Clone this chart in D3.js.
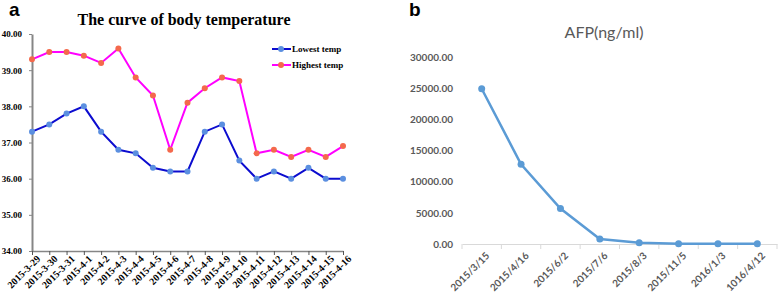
<!DOCTYPE html>
<html>
<head>
<meta charset="utf-8">
<script src="https://cdn.jsdelivr.net/npm/d3@7"></script>
<style>
  body { margin: 0; background: #fff; }
  svg { display: block; }
</style>
</head>
<body>
<div id="chart"></div>
<script>
// panel a: body temperature
const tempDates = ["2015-3-29", "2015-3-30", "2015-3-31", "2015-4-1", "2015-4-2", "2015-4-3",
    "2015-4-4", "2015-4-5", "2015-4-6", "2015-4-7", "2015-4-8", "2015-4-9", "2015-4-10",
    "2015-4-11", "2015-4-12", "2015-4-13", "2015-4-14", "2015-4-15", "2015-4-16"];
const lowestTemp = [37.3, 37.5, 37.8, 38.0, 37.3, 36.8, 36.7, 36.3, 36.2, 36.2, 37.3, 37.5, 36.5,
    36.0, 36.2, 36.0, 36.3, 36.0, 36.0];
const highestTemp = [39.3, 39.5, 39.5, 39.4, 39.2, 39.6, 38.8, 38.3, 36.8, 38.1, 38.5, 38.8, 38.7,
    36.7, 36.8, 36.6, 36.8, 36.6, 36.9];
const tempTicks = [34, 35, 36, 37, 38, 39, 40];

// panel b: AFP
const afpDates = ["2015/3/15", "2015/4/16", "2015/6/2", "2015/7/6", "2015/8/3", "2015/11/5",
    "2016/1/3", "1016/4/12"];
const afpValues = [24900, 12800, 5700, 800, 200, 60, 40, 30];
const afpTicks = [0, 5000, 10000, 15000, 20000, 25000, 30000];

const width = 778, height = 297;
const serif = '"Liberation Serif", "Times New Roman", serif';
const sans = 'Lato, "Open Sans", sans-serif';

const svg = d3.select("#chart").append("svg")
    .attr("width", width)
    .attr("height", height);

// ---------- panel a ----------
const xa = d3.scalePoint().domain(tempDates).range([32, 343]);
const ya = d3.scaleLinear().domain([34, 40]).range([251, 34]);
const fmt = d3.format(".2f");

const ga = svg.append("g");

ga.append("text")
    .attr("x", 9).attr("y", 16)
    .style("font-family", '"Liberation Sans", Arial, sans-serif')
    .style("font-weight", "bold")
    .style("font-size", "19px")
    .text("a");

ga.append("text")
    .attr("x", 184).attr("y", 25)
    .attr("text-anchor", "middle")
    .style("font-family", serif)
    .style("font-weight", "bold")
    .style("font-size", "16px")
    .text("The curve of body temperature");

const yAxisA = ga.append("g")
    .attr("transform", "translate(32,0)")
    .call(d3.axisLeft(ya).tickValues(tempTicks).tickFormat(fmt).tickSize(3).tickSizeOuter(0));
yAxisA.select(".domain").attr("stroke", "#868686").attr("stroke-width", 2);
yAxisA.selectAll(".tick line").attr("stroke", "#868686");
yAxisA.selectAll(".tick text")
    .attr("x", -10)
    .style("font-family", serif)
    .style("font-weight", "bold")
    .style("font-size", "9px")
    .attr("fill", "#000");

const xAxisA = ga.append("g")
    .attr("transform", "translate(0,251)")
    .call(d3.axisBottom(xa).tickSize(4).tickSizeOuter(0));
xAxisA.select(".domain").attr("stroke", "#868686").attr("stroke-width", 1.5);
xAxisA.selectAll(".tick line").attr("stroke", "#555");
xAxisA.selectAll(".tick text")
    .attr("text-anchor", "end")
    .attr("transform", "translate(6,6) rotate(-45)")
    .attr("x", 0).attr("y", 0).attr("dy", "0.35em")
    .style("font-family", serif)
    .style("font-weight", "bold")
    .style("font-size", "10px")
    .attr("fill", "#000");

const seriesA = [
    { name: "Lowest temp", values: lowestTemp, line: "#0c0ccf", marker: "#5b8fe0" },
    { name: "Highest temp", values: highestTemp, line: "#ff00ff", marker: "#f4694c" }
];

const lineA = d3.line()
    .x((d, i) => xa(tempDates[i]))
    .y(d => ya(d));

seriesA.forEach(s => {
    ga.append("path")
        .datum(s.values)
        .attr("fill", "none")
        .attr("stroke", s.line)
        .attr("stroke-width", 2)
        .attr("d", lineA);
    ga.append("g").selectAll("circle")
        .data(s.values)
        .join("circle")
        .attr("cx", (d, i) => xa(tempDates[i]))
        .attr("cy", d => ya(d))
        .attr("r", 3)
        .attr("fill", s.marker);
});

const legend = ga.append("g");
seriesA.forEach((s, i) => {
    const ly = 49 + i * 16;
    legend.append("line")
        .attr("x1", 272).attr("x2", 291)
        .attr("y1", ly).attr("y2", ly)
        .attr("stroke", s.line).attr("stroke-width", 2);
    legend.append("circle")
        .attr("cx", 281).attr("cy", ly).attr("r", 3)
        .attr("fill", s.marker);
    legend.append("text")
        .attr("x", 292).attr("y", ly).attr("dy", "0.35em")
        .style("font-family", serif)
        .style("font-weight", "bold")
        .style("font-size", "9px")
        .text(s.name);
});

// ---------- panel b ----------
const xb = d3.scaleBand().domain(afpDates).range([462, 777]);
const yb = d3.scaleLinear().domain([0, 30000]).range([244, 57]);
const grey = "#595959";

const gb = svg.append("g");

gb.append("text")
    .attr("x", 409).attr("y", 16)
    .style("font-family", '"Liberation Sans", Arial, sans-serif')
    .style("font-weight", "bold")
    .style("font-size", "19px")
    .text("b");

gb.append("text")
    .attr("x", 604).attr("y", 38)
    .attr("text-anchor", "middle")
    .style("font-family", sans)
    .style("font-size", "16px")
    .attr("fill", grey)
    .text("AFP(ng/ml)");

const yAxisB = gb.append("g")
    .attr("transform", "translate(462,0)")
    .call(d3.axisLeft(yb).tickValues(afpTicks).tickFormat(fmt).tickSize(0));
yAxisB.select(".domain").remove();
yAxisB.selectAll(".tick text")
    .attr("x", -9)
    .style("font-family", sans)
    .style("font-weight", "bold")
    .style("font-size", "10px")
    .attr("fill", grey);

const xAxisB = gb.append("g")
    .attr("transform", "translate(0,244)")
    .call(d3.axisBottom(xb).tickSize(0).tickSizeOuter(0));
xAxisB.select(".domain").attr("stroke", "#d9d9d9");
// tick marks between categories
gb.append("g").selectAll("line")
    .data(afpDates)
    .join("line")
    .attr("x1", d => xb(d)).attr("x2", d => xb(d))
    .attr("y1", 244).attr("y2", 249)
    .attr("stroke", "#d9d9d9");
gb.append("line")
    .attr("x1", xb.range()[1]).attr("x2", xb.range()[1])
    .attr("y1", 244).attr("y2", 249)
    .attr("stroke", "#d9d9d9");
xAxisB.selectAll(".tick text")
    .attr("text-anchor", "end")
    .attr("transform", "translate(6,10) rotate(-45)")
    .attr("x", 0).attr("y", 0).attr("dy", "0.35em")
    .style("font-family", sans)
    .style("font-weight", "bold")
    .style("font-size", "10px")
    .attr("fill", grey);

const cx = d => xb(d) + xb.bandwidth() / 2;
const lineB = d3.line()
    .x((d, i) => cx(afpDates[i]))
    .y(d => yb(d));

gb.append("path")
    .datum(afpValues)
    .attr("fill", "none")
    .attr("stroke", "#5b9bd5")
    .attr("stroke-width", 2.5)
    .attr("d", lineB);

gb.append("g").selectAll("circle")
    .data(afpValues)
    .join("circle")
    .attr("cx", (d, i) => cx(afpDates[i]))
    .attr("cy", d => yb(d))
    .attr("r", 3.5)
    .attr("fill", "#5b9bd5");
</script>
</body>
</html>
